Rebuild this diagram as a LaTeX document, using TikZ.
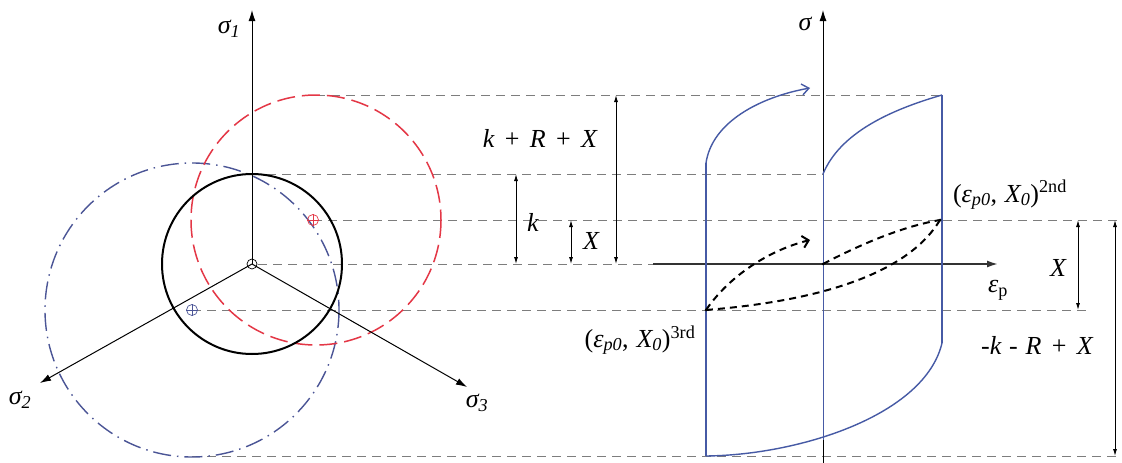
\documentclass[tikz,border=0pt]{standalone}
\usepackage{fontspec}
\setmainfont{Liberation Serif}
\usetikzlibrary{arrows.meta}
\definecolor{dgray}{RGB}{125,125,125}
\definecolor{cblue}{RGB}{70,90,165}
\definecolor{cred}{RGB}{228,55,70}
\definecolor{dblue}{RGB}{75,85,150}
\begin{document}
\begin{tikzpicture}[x=1pt,y=-1pt,
  guide/.style={dgray, line width=1pt, dash pattern=on 9pt off 6pt},
  axisline/.style={black, line width=1pt, -{Latex[length=11pt,width=7pt]}},
  dimline/.style={black, line width=0.9pt, {Latex[length=7pt,width=4pt]}-{Latex[length=7pt,width=4pt]}},
  lbl/.style={font=\fontsize{26}{28}\selectfont\itshape, inner sep=0pt},
  curve/.style={cblue, line width=1.4pt},
  path/.style={black, line width=2pt, dash pattern=on 7pt off 5pt},
  marker/.style={circle, draw, line width=0.7pt, minimum size=11pt, inner sep=0pt},
  dotm/.style={circle, fill=black, minimum size=3pt, inner sep=0pt}
]
\useasboundingbox (0,0) rectangle (1122,463);
\fill[white] (0,0) rectangle (1122,463);

% --- coordinates
\coordinate (O) at (252,264);
\coordinate (Ored) at (313,220);
\coordinate (Oblue) at (192,310);
\coordinate (S1) at (252,10);
\coordinate (S2) at (40,383);
\coordinate (S3) at (467,387);

% --- guide lines
\coordinate (g1a) at (316,95);  \coordinate (g1b) at (942,95);
\coordinate (g2a) at (252,174); \coordinate (g2b) at (823,174);
\coordinate (g3a) at (313,220); \coordinate (g3b) at (1122,220);
\coordinate (g4a) at (258,264); \coordinate (g4b) at (653,264);
\coordinate (g5a) at (192,310); \coordinate (g5b) at (1090,310);
\coordinate (g6a) at (192,456); \coordinate (g6b) at (1122,456);
\draw[guide] (g1a) -- (g1b);
\draw[guide] (g2a) -- (g2b);
\draw[guide] (g3a) -- (g3b);
\draw[guide] (g4a) -- (g4b);
\draw[guide] (g5a) -- (g5b);
\draw[guide] (g6a) -- (g6b);

% --- circles
\draw[dblue, line width=1.4pt, dash pattern=on 18pt off 6pt on 1.5pt off 6pt] (Oblue) circle (147);
\draw[cred, line width=1.5pt, dash pattern=on 18pt off 7pt] (Ored) ++(3,0) circle (125);
\draw[black, line width=2pt] (O) circle (90);

% --- principal axes
\draw[axisline] (O) -- (S1);
\draw[axisline] (O) -- (S2);
\draw[axisline] (O) -- (S3);
\node[marker, draw=black, minimum size=10pt] (mO) at (O) {};
\node[marker, draw=cred] (mR) at (Ored) {};
\draw[cred, line width=0.6pt] (mR.north) -- (mR.south) (mR.west) -- (mR.east);
\node[marker, draw=dblue] (mB) at (Oblue) {};
\draw[dblue, line width=0.6pt] (mB.north) -- (mB.south) (mB.west) -- (mB.east);

\node[lbl] (l1) at (229,29) {σ\textsubscript{1}};
\node[lbl] (l2) at (20,400) {σ\textsubscript{2}};
\node[lbl] (l3) at (477,403) {σ\textsubscript{3}};

% --- dimension arrows (left)
\coordinate (dA1) at (616,95);  \coordinate (dA2) at (616,264);
\coordinate (dB1) at (516,174); \coordinate (dB2) at (516,264);
\coordinate (dC1) at (571,220); \coordinate (dC2) at (571,264);
\draw[dimline] (dA1) -- (dA2);
\draw[dimline] (dB1) -- (dB2);
\draw[dimline] (dC1) -- (dC2);
\node[lbl] (lkrx) at (540,138) {k\hspace{0.4em}\upshape{+}\hspace{0.4em}\itshape R\hspace{0.4em}\upshape{+}\hspace{0.4em}\itshape X};
\node[lbl] (lk) at (533,222) {k};
\node[lbl] (lx) at (591,241) {X};

% --- right diagram axes
\coordinate (sb) at (823,463); \coordinate (st) at (823,10);
\coordinate (ea) at (653,264); \coordinate (eb) at (998,264);
\draw[axisline, line width=0.9pt] (sb) -- (st);
\draw[axisline, line width=1.7pt, black!80] (ea) -- (eb);
\node[lbl] (ls) at (805,24) {σ};
\node[lbl] (lep) at (998,290) {ε\textsubscript{\upshape p}};

% --- blue stress-strain curves
\coordinate (bl1) at (706,456);
\coordinate (bl2) at (706,163);
\coordinate (blA) at (810,88);
\coordinate (bm1) at (823,174);
\coordinate (bm2) at (823,440);
\coordinate (br1) at (942,95);
\coordinate (br2) at (942,343);
\draw[curve] (bl1) -- (bl2);
\draw[curve, -{Straight Barb[length=7pt,width=11pt]}] (bl2) .. controls (712,122) and (760,97) .. (blA);
\draw[curve, line width=0.9pt] (bm1) -- (bm2);
\draw[curve] (bm1) .. controls (840,133) and (890,110) .. (br1);
\draw[curve] (br1) -- (br2);
\draw[curve] (br2) .. controls (925,415) and (800,455) .. (bl1);

% --- dashed loading paths
\coordinate (p3) at (706,310);
\coordinate (p2) at (940,220);
\coordinate (p0) at (823,264);
\coordinate (pA) at (810,240);
\draw[path, -{Straight Barb[length=6pt,width=12pt]}] (p3) .. controls (730,275) and (770,250) .. (pA);
\draw[path] (p0) .. controls (865,242) and (905,226) .. (p2);
\draw[path] (p2) .. controls (910,270) and (830,300) .. (p3);
\node[dotm] (d0) at (p0) {};
\node[dotm] (d2) at (p2) {};
\node[dotm] (d3) at (p3) {};

\node[lbl] (l2nd) at (1010,195) {\upshape(\itshape ε\textsubscript{p0}\upshape,\hspace{0.3em}\itshape X\textsubscript{0}\upshape)\textsuperscript{2nd}};
\node[lbl] (l3rd) at (640,340) {\upshape(\itshape ε\textsubscript{p0}\upshape,\hspace{0.3em}\itshape X\textsubscript{0}\upshape)\textsuperscript{3rd}};

% --- dimension arrows (right)
\coordinate (dD1) at (1078,220); \coordinate (dD2) at (1078,310);
\coordinate (dE1) at (1115,220); \coordinate (dE2) at (1115,456);
\draw[dimline] (dD1) -- (dD2);
\draw[dimline] (dE1) -- (dE2);
\node[lbl] (lxr) at (1058,268) {X};
\node[lbl] (lkrx2) at (1037,345) {\upshape-\itshape k\hspace{0.3em}\upshape-\hspace{0.3em}\itshape R\hspace{0.4em}\upshape{+}\hspace{0.4em}\itshape X};
\end{tikzpicture}
\end{document}
